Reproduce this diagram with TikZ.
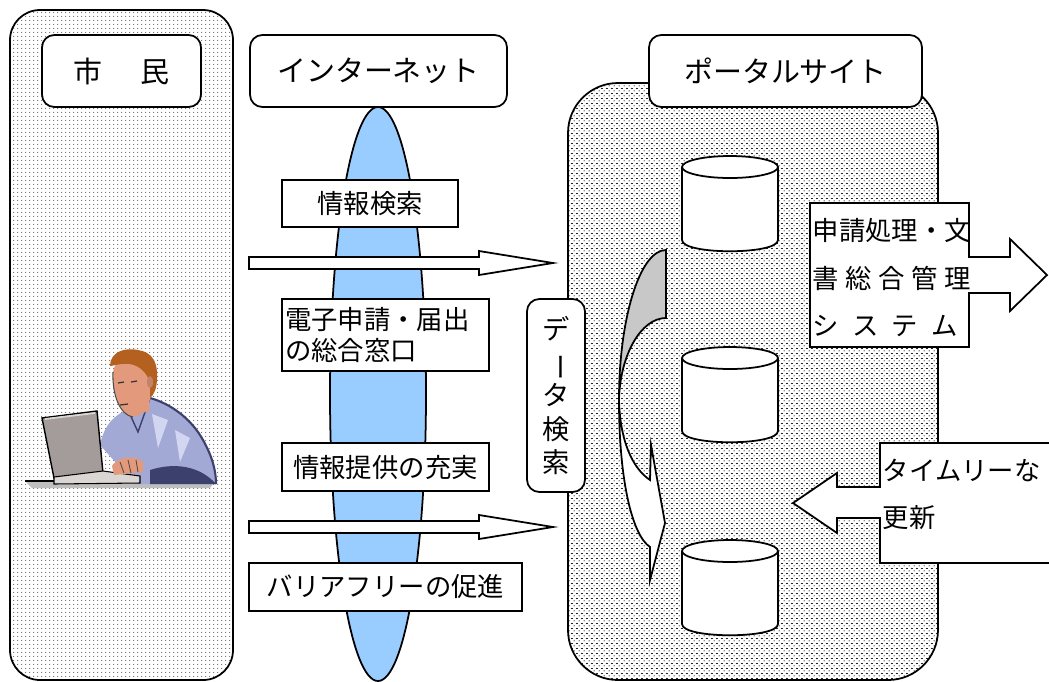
\documentclass[tikz,border=0pt]{standalone}
\usepackage{fontspec}
\usepackage{graphicx}
\setmainfont{Noto Sans CJK JP}
\usetikzlibrary{patterns.meta}

\definecolor{netblue}{HTML}{99CCFF}
\definecolor{bandgray}{HTML}{C8C8C8}
\definecolor{skin}{HTML}{E39A7C}
\definecolor{hair}{HTML}{B4601E}
\definecolor{shirt}{HTML}{A2A9D4}
\definecolor{shirtlight}{HTML}{D2D6F0}
\definecolor{shirtdark}{HTML}{3C406C}
\definecolor{pcgray}{HTML}{A39C9A}
\definecolor{pclight}{HTML}{DAD6D3}

% Dot fills: a sparse one for the citizen side, a staggered one for the portal.
\tikzdeclarepattern{
  name=finedots, type=colored,
  bottom left={(0pt,0pt)}, top right={(2.3pt,2.3pt)},
  tile size={(2.3pt,2.3pt)},
  code={\fill[black!80] (1.15pt,1.15pt) circle (0.35pt);}
}
\tikzdeclarepattern{
  name=densedots, type=colored,
  bottom left={(0pt,0pt)}, top right={(3pt,3pt)},
  tile size={(3pt,3pt)},
  code={\fill[black!85] (0.75pt,0.75pt) circle (0.4pt);
        \fill[black!85] (2.25pt,2.25pt) circle (0.4pt);}
}

\begin{document}
\begin{tikzpicture}[x=0.02cm,y=-0.02cm,line width=1pt,
  headbox/.style={draw,fill=white,rounded corners=7pt,inner sep=0pt,
    font=\fontsize{16.5}{20}\selectfont},
  labbox/.style={draw,fill=white,inner sep=0pt,font=\fontsize{15}{18}\selectfont},
  blockarrow/.style={draw,fill=white}]
\path[use as bounding box,fill=white] (0,0) rectangle (1049,681);

% Side panels.
\draw[pattern=finedots,rounded corners=0.6cm] (10,10) rectangle (233,680);
\draw[pattern=densedots,rounded corners=1cm] (568,83) rectangle (938,680);

% Network lens and the two flows across it.
\draw[fill=netblue] (378,394) ellipse [x radius=48, y radius=287];
\foreach \y in {263,527}
  \draw[blockarrow] (249,\y-6) -- (479,\y-6) -- (479,\y-12) -- (553,\y)
    -- (479,\y+12) -- (479,\y+6) -- (249,\y+6) -- cycle;

\node[labbox,minimum width=3.52cm,minimum height=0.94cm] (search) at (370,203.5) {情報検索};
\node[labbox,minimum height=1.44cm,text width=4.02cm,inner xsep=0.06cm,align=left,
  font=\fontsize{15}{17.6}\selectfont] (apply) at (385.5,335) {電子申請・届出\\の総合窓口};
\node[labbox,minimum width=4.14cm,minimum height=0.96cm] (offer) at (385.5,467) {情報提供の充実};
\node[labbox,minimum width=5.46cm,minimum height=0.96cm] (barrier) at (385.5,587) {バリアフリーの促進};

% Headings.
\node[headbox,minimum width=3.18cm,minimum height=1.44cm] (citizen) at (121.5,71) {市\hspace{1.3em}民};
\node[headbox,minimum width=5.14cm,minimum height=1.44cm] (net) at (378.5,71) {インターネット};
\node[headbox,minimum width=5.46cm,minimum height=1.44cm] (portal) at (785.5,71) {ポータルサイト};

% Databases.
\foreach \t in {167,358,551}{
  \draw[fill=white] (682,\t) -- (682,\t+73) .. controls (682,\t+88) and (778,\t+88) .. (778,\t+73) -- (778,\t);
  \draw[fill=white] (730,\t) ellipse [x radius=48, y radius=11];
}

% Curved arrow running down past the databases.
\draw[fill=bandgray] (666,250) .. controls (640,250) and (619,318) .. (619,400)
  .. controls (620,355) and (641,318) .. (666,318) -- cycle;
\draw[fill=white] (619,400) .. controls (619,480) and (632,535) .. (650,547)
  -- (650,580) -- (665,523) -- (651,445) -- (650,480)
  .. controls (632,468) and (620,440) .. (619,400) -- cycle;

\node[headbox,minimum width=1.16cm,minimum height=3.86cm,align=center,
  font=\fontsize{15.5}{19}\selectfont] (dsearch) at (556,395.5)
  {デ\\\rotatebox[origin=c]{-90}{ー}\\タ\\検\\索};

% Outgoing callout.
\draw[fill=white] (810,203) -- (969,203) -- (969,257) -- (1010,257) -- (1010,239)
  -- (1047,275) -- (1010,311) -- (1010,293) -- (969,293) -- (969,347) -- (810,347) -- cycle;
\node[anchor=west,inner sep=0pt,font=\fontsize{15}{18}\selectfont] (sys1) at (812,231) {申請処理・文};
\node[anchor=west,inner sep=0pt,font=\fontsize{15}{18}\selectfont] (sys2) at (812,278)
  {\makebox[6em]{書\hfill 総\hfill 合\hfill 管\hfill 理}};
\node[anchor=west,inner sep=0pt,font=\fontsize{15}{18}\selectfont] (sys3) at (812,326)
  {\makebox[5.5em]{シ\hfill ス\hfill テ\hfill ム}};

% Incoming callout.
\draw[fill=white] (1060,443) -- (880,443) -- (880,487) -- (837,487) -- (837,473)
  -- (793,503) -- (837,533) -- (837,518) -- (880,518) -- (880,563) -- (1060,563);
\node[anchor=west,inner sep=0pt,font=\fontsize{15}{18}\selectfont] (timely) at (882,470) {タイムリーな};
\node[anchor=west,inner sep=0pt,font=\fontsize{15}{18}\selectfont] (renew) at (882,518) {更新};

% Person at a laptop.
\fill[gray!50] (25,481) -- (215,481) -- (210,488) -- (32,488) -- cycle;
\draw[line width=1.3pt] (25,481) -- (62,481);
\fill[shirt] (100,445) .. controls (104,425) and (115,414) .. (128,410) -- (150,398)
  .. controls (172,404) and (192,420) .. (203,440) .. controls (212,456) and (216,470) .. (216,484)
  -- (135,484) -- cycle;
\fill[shirtlight] (152,414) -- (168,420) -- (158,448) -- cycle;
\fill[shirtlight] (175,430) -- (190,438) -- (180,462) -- cycle;
\fill[shirtdark] (150,470) .. controls (175,462) and (200,466) .. (216,484) -- (150,484) -- cycle;
\draw[shirtdark,line width=1.2pt] (150,398) .. controls (172,404) and (192,420) .. (203,440)
  .. controls (212,456) and (216,470) .. (216,484);
\draw[shirtdark,line width=0.8pt] (128,410) -- (138,432) -- (150,398);
\fill[skin] (130,400) -- (148,394) -- (150,410) -- (136,416) -- cycle;
\fill[skin] (113,372) .. controls (112,395) and (120,415) .. (133,417)
  .. controls (145,415) and (152,400) .. (153,385) .. controls (154,370) and (148,360) .. (135,358)
  .. controls (120,358) and (114,364) .. (113,372) -- cycle;
\draw[black!70,line width=0.6pt] (113,372) .. controls (112,395) and (120,415) .. (133,417);
\fill[hair] (110,366) .. controls (110,352) and (125,347) .. (138,350)
  .. controls (152,352) and (158,362) .. (157,378) .. controls (157,388) and (154,395) .. (150,398)
  -- (150,382) .. controls (146,372) and (140,366) .. (130,364)
  .. controls (120,363) and (113,366) .. (110,366) -- cycle;
\fill[skin!85!black] (150,382) ellipse [x radius=3, y radius=6];
\draw[black!80,line width=0.7pt] (118,383) -- (124,382) (131,382) -- (137,381) (120,405) -- (128,404);
\draw[fill=pcgray,line width=0.8pt] (42,418) -- (97,411) -- (103,473) -- (54,478) -- cycle;
\draw[pclight,line width=1pt] (45,419) -- (95,413);
\draw[fill=pclight,line width=0.6pt] (54,477) -- (103,471) -- (140,476) -- (140,483) -- (54,484) -- cycle;
\fill[skin] (112,466) .. controls (118,456) and (136,455) .. (143,462) -- (143,472) -- (114,475) -- cycle;
\draw[black!70,line width=0.5pt] (120,462) -- (124,473) (128,460) -- (131,473) (136,460) -- (138,472);
\end{tikzpicture}
\end{document}
